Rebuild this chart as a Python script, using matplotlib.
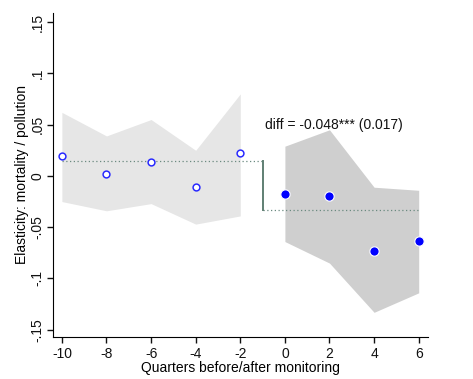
import matplotlib
matplotlib.use("Agg")
import matplotlib.pyplot as plt

plt.rcParams['font.family'] = ['Liberation Sans', 'DejaVu Sans']

pre_q = [-10, -8, -6, -4, -2]
pre_est = [0.019, 0.002, 0.014, -0.011, 0.022]
pre_hi = [0.062, 0.039, 0.055, 0.025, 0.080]
pre_lo = [-0.025, -0.034, -0.027, -0.047, -0.039]

post_q = [0, 2, 4, 6]
post_est = [-0.018, -0.020, -0.073, -0.063]
post_hi = [0.029, 0.045, -0.011, -0.014]
post_lo = [-0.064, -0.085, -0.133, -0.114]

pre_mean = 0.015
post_mean = -0.0335
break_q = -1
diff_label = "diff = -0.048*** (0.017)"

yticks = [-0.15, -0.1, -0.05, 0, 0.05, 0.1, 0.15]
ytick_labels = ["-.15", "-.1", "-.05", "0", ".05", ".1", ".15"]
xticks = [-10, -8, -6, -4, -2, 0, 2, 4, 6]

fig = plt.figure(figsize=(4.73, 3.79), dpi=100)
ax = fig.add_axes([0.112, 0.111, 0.793, 0.855])

ax.fill_between(pre_q, pre_lo, pre_hi, color='#e6e6e6', linewidth=0, zorder=1)
ax.fill_between(post_q, post_lo, post_hi, color='#cfcfcf', linewidth=0, zorder=1)

ax.plot([pre_q[0], break_q], [pre_mean, pre_mean], linestyle=(0, (1, 2)), color='#6b8a80', lw=0.9, zorder=2)
ax.plot([break_q, post_q[-1]], [post_mean, post_mean], linestyle=(0, (1, 2)), color='#6b8a80', lw=0.9, zorder=2)
ax.plot([break_q, break_q], [pre_mean, post_mean], color='#5f7f73', lw=1.4, zorder=2)

ax.scatter(pre_q, pre_est, s=24, facecolors='white', edgecolors='#2a2aff', linewidths=1.1, zorder=3)
ax.scatter(post_q, post_est, s=45, facecolors='#0000ff', edgecolors='white', linewidths=0.8, zorder=3)

ax.text(-0.87, 0.050, diff_label, fontsize=10, va='center', ha='left', color='#111111')

ax.set_xlim(-10.4, 6.42)
ax.set_ylim(-0.157, 0.159)
ax.set_xticks(xticks)
ax.set_xticklabels([str(v) for v in xticks])
ax.set_yticks(yticks)
ax.set_yticklabels(ytick_labels, rotation=90, va='center')
ax.tick_params(direction='out', length=4, width=1, labelsize=10, colors='#111111')
ax.tick_params(axis='y', pad=2)
ax.spines['top'].set_visible(False)
ax.spines['right'].set_visible(False)
ax.set_xlabel("Quarters before/after monitoring", fontsize=10, labelpad=0)
ax.set_ylabel("Elasticity: mortality / pollution", fontsize=10, labelpad=1)

fig.savefig("out.png", dpi=100)
